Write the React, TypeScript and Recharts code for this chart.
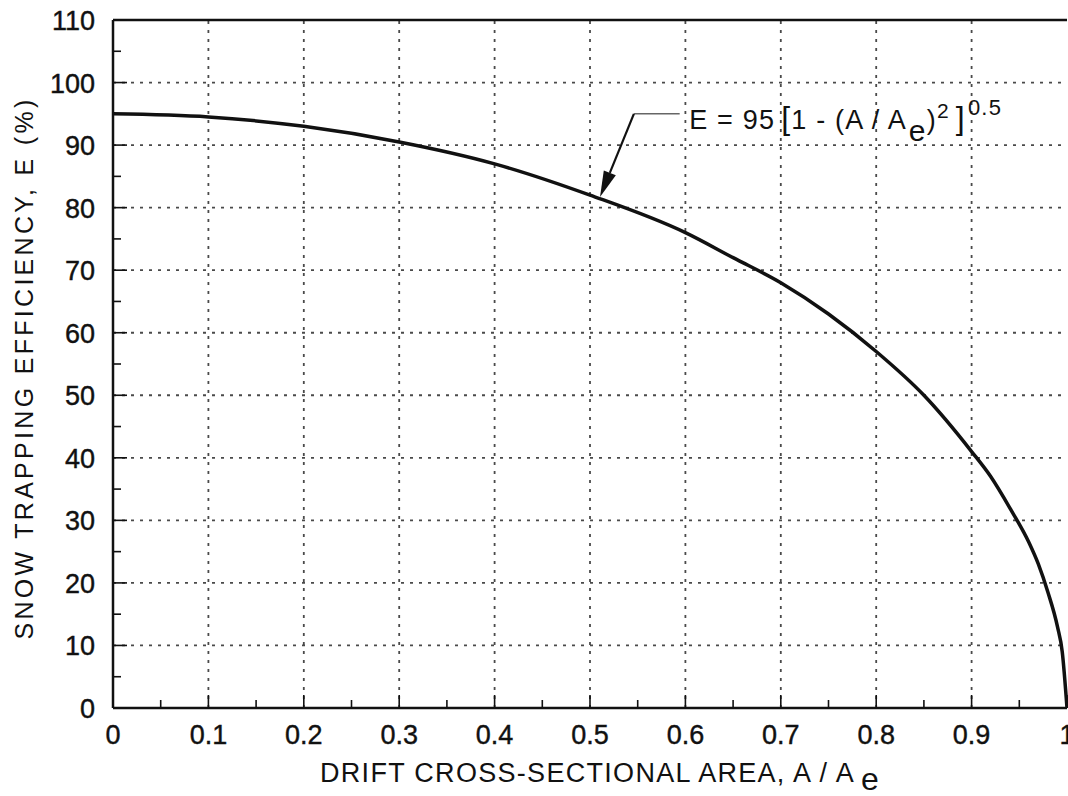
import React from 'react';
import {
    LineChart,
    Line,
    XAxis,
    YAxis,
    ReferenceLine,
    ReferenceDot,
} from 'recharts';

// drift area ratio A/Ae and trapping efficiency E (%)
const areaRatio = [0, 0.1, 0.2, 0.3, 0.4, 0.5, 0.6, 0.65, 0.7, 0.75, 0.8, 0.85, 0.9, 0.92, 0.94, 0.96, 0.97, 0.98, 0.99, 0.995, 1];
const efficiency = [95, 94.5, 93, 90.5, 87, 82, 76, 72, 68, 63, 57, 50, 41, 37, 32, 26.5, 23, 18.5, 13, 9, 0];

const xMajor = [0, 0.1, 0.2, 0.3, 0.4, 0.5, 0.6, 0.7, 0.8, 0.9, 1];
const xMajorLabels = ['0', '0.1', '0.2', '0.3', '0.4', '0.5', '0.6', '0.7', '0.8', '0.9', '1'];
const xMinor = [0.05, 0.15, 0.25, 0.35, 0.45, 0.55, 0.65, 0.75, 0.85, 0.95];
const yMajor = [0, 10, 20, 30, 40, 50, 60, 70, 80, 90, 100, 110];
const yMinor = [5, 15, 25, 35, 45, 55, 65, 75, 85, 95, 105];

// annotation anchors (data units)
const leaderStart = { x: 0.546, y: 95 };
const leaderEnd = { x: 0.594, y: 95 };
const arrowTip = { x: 0.5105, y: 81.7 };
const formulaAt = { x: 0.604, y: 92.6 };

const data = areaRatio.map((a, i) => ({ a, e: efficiency[i] }));

const FONT = '"Liberation Sans", Arial, sans-serif';
const INK = '#111';
const GRID = '#4a4a4a';

const near = (list: number[], v: number) => list.findIndex((t) => Math.abs(t - v) < 1e-6);

const XTick = (props: any) => {
    const { x, y, payload } = props;
    const i = near(xMajor, payload.value);
    if (i < 0) {
        return <line x1={x} y1={y} x2={x} y2={y - 8} stroke={INK} strokeWidth={1.6} />;
    }
    return (
        <g>
            <line x1={x} y1={y} x2={x} y2={y - 13} stroke={INK} strokeWidth={1.6} />
            <text x={x} y={y + 36} textAnchor="middle" fontSize={27} fontFamily={FONT} fill={INK} stroke={INK} strokeWidth={0.4}>
                {xMajorLabels[i]}
            </text>
        </g>
    );
};

const YTick = (props: any) => {
    const { x, y, payload } = props;
    const major = near(yMajor, payload.value) >= 0;
    if (!major) {
        return <line x1={x} y1={y} x2={x + 8} y2={y} stroke={INK} strokeWidth={1.6} />;
    }
    return (
        <g>
            <line x1={x} y1={y} x2={x + 14} y2={y} stroke={INK} strokeWidth={1.6} />
            <text x={x - 18} y={y + 10} textAnchor="end" fontSize={27} fontFamily={FONT} fill={INK} stroke={INK} strokeWidth={0.4}>
                {payload.value}
            </text>
        </g>
    );
};

const XTitle = (props: any) => {
    const { x, y, width } = props.viewBox;
    return (
        <text x={x + width / 2 - 270} y={y + 74} textAnchor="start" fontSize={27} fontFamily={FONT} fill={INK} letterSpacing={1.3}>
            DRIFT CROSS-SECTIONAL AREA, A / A
            <tspan fontSize={32} dx={6} dy={8}>e</tspan>
        </text>
    );
};

const YTitle = (props: any) => {
    const { x, y, height } = props.viewBox;
    const cx = x + 24;
    const cy = y + height / 2 + 4;
    return (
        <text
            x={cx}
            y={cy}
            transform={`rotate(-90 ${cx} ${cy})`}
            textAnchor="middle"
            dominantBaseline="central"
            fontSize={25}
            fontFamily={FONT}
            fill={INK}
            letterSpacing={3.3}
        >
            SNOW TRAPPING EFFICIENCY, E (%)
        </text>
    );
};

const Arrow = (props: any) => {
    const { x1, y1, x2, y2 } = props;
    const ang = Math.atan2(y2 - y1, x2 - x1);
    const len = 26;
    const half = 6.5;
    const bx = x2 - len * Math.cos(ang);
    const by = y2 - len * Math.sin(ang);
    const px = -Math.sin(ang) * half;
    const py = Math.cos(ang) * half;
    return (
        <g>
            <line x1={x1} y1={y1} x2={bx} y2={by} stroke={INK} strokeWidth={2.2} />
            <polygon points={`${x2},${y2} ${bx + px},${by + py} ${bx - px},${by - py}`} fill={INK} />
        </g>
    );
};

const Formula = (props: any) => {
    const { cx, cy } = props;
    return (
        <text x={cx} y={cy} fontSize={27} fontFamily={FONT} fill={INK} letterSpacing={1.2}>
            E = 95
            <tspan fontSize={32} dx={6}>[</tspan>
            <tspan>1 - (A / A</tspan>
            <tspan fontSize={30} dx={2} dy={12}>e</tspan>
            <tspan dy={-12}>)</tspan>
            <tspan fontSize={21} dy={-11}>2</tspan>
            <tspan fontSize={32} dx={6} dy={11}>]</tspan>
            <tspan fontSize={22} dx={2} dy={-14}>0.5</tspan>
        </text>
    );
};

export default function App() {
    return (
        <div style={{ position: 'absolute', left: 0, top: 0, width: 1068, height: 796, background: '#fff' }}>
            <LineChart width={1068} height={796} data={data} margin={{ top: 20, right: 1, bottom: 0, left: 0 }}>
                {xMajor.slice(1, -1).map((v) => (
                    <ReferenceLine key={`gx${v}`} x={v} stroke={GRID} strokeWidth={1.8} strokeDasharray="3 6" />
                ))}
                {yMajor.slice(1, -1).map((v) => (
                    <ReferenceLine key={`gy${v}`} y={v} stroke={GRID} strokeWidth={1.8} strokeDasharray="3 6" />
                ))}
                <ReferenceLine y={110} stroke={INK} strokeWidth={2.5} />
                <XAxis
                    dataKey="a"
                    type="number"
                    domain={[0, 1]}
                    ticks={[...xMajor, ...xMinor].sort((p, q) => p - q)}
                    interval={0}
                    tick={<XTick />}
                    tickLine={false}
                    tickSize={0}
                    tickMargin={0}
                    axisLine={{ stroke: INK, strokeWidth: 2.5 }}
                    height={88}
                    label={<XTitle />}
                />
                <YAxis
                    type="number"
                    domain={[0, 110]}
                    ticks={[...yMajor, ...yMinor].sort((p, q) => p - q)}
                    interval={0}
                    tick={<YTick />}
                    tickLine={false}
                    tickSize={0}
                    tickMargin={0}
                    axisLine={{ stroke: INK, strokeWidth: 2.5 }}
                    width={113}
                    label={<YTitle />}
                />
                <Line
                    type="monotone"
                    dataKey="e"
                    stroke={INK}
                    strokeWidth={3.5}
                    dot={false}
                    isAnimationActive={false}
                />
                <ReferenceLine
                    segment={[leaderStart, leaderEnd]}
                    stroke="#666"
                    strokeWidth={1.5}
                />
                <ReferenceLine segment={[leaderStart, arrowTip]} shape={(p: any) => <Arrow {...p} />} />
                <ReferenceDot x={formulaAt.x} y={formulaAt.y} r={0} shape={(p: any) => <Formula {...p} />} />
            </LineChart>
        </div>
    );
}
